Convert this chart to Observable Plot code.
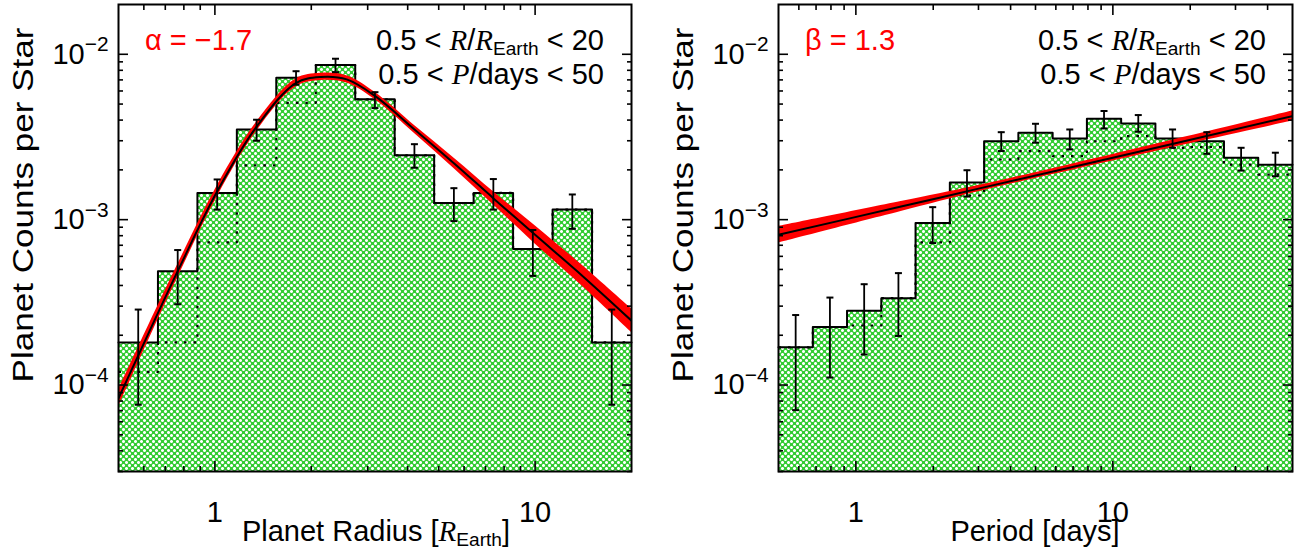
<!DOCTYPE html>
<html>
<head>
<meta charset="utf-8">
<script src="https://cdn.jsdelivr.net/npm/d3@7"></script>
<script src="https://cdn.jsdelivr.net/npm/@observablehq/plot@0.6"></script>
<style>
  html, body { margin: 0; padding: 0; background: #fff; }
  #wrap { position: relative; width: 1301px; height: 550px; overflow: hidden; }
  #left { position: absolute; left: 0; top: 0; }
  #right { position: absolute; left: 650px; top: 0; }
  svg text { white-space: pre; }
</style>
</head>
<body>
<div id="wrap"><div id="left"></div><div id="right"></div></div>
<script>
// ---------------- data ----------------
const yDomain = [3e-5, 2e-2];
const yMajor = [1e-4, 1e-3, 1e-2];
const yMinor = [3e-5, 4e-5, 5e-5, 6e-5, 7e-5, 8e-5, 9e-5,
                2e-4, 3e-4, 4e-4, 5e-4, 6e-4, 7e-4, 8e-4, 9e-4,
                2e-3, 3e-3, 4e-3, 5e-3, 6e-3, 7e-3, 8e-3, 9e-3];

// Left panel: planet radius
const radiusDomain = [0.5, 20];
const radiusMajor = [1, 10];
const radiusMinor = [0.6, 0.7, 0.8, 0.9, 2, 3, 4, 5, 6, 7, 8, 9];
const radiusEdges = [0.5, 0.664, 0.882, 1.171, 1.555, 2.066, 2.743, 3.643, 4.839, 6.427, 8.535, 11.34, 15.06, 20];
const radiusCounts = [1.81e-4, 4.87e-4, 1.45e-3, 3.51e-3, 7.22e-3, 8.61e-3, 5.34e-3, 2.45e-3, 1.26e-3, 1.45e-3, 6.64e-4, 1.15e-3, 1.81e-4];
const radiusCountsDotted = [1.2e-4, 1.81e-4, 7.29e-4, 2.13e-3, 5.09e-3, 8.61e-3, 5.34e-3, 2.45e-3, 1.26e-3, 1.45e-3, 6.64e-4, 1.15e-3, 1.81e-4];
const radiusErrLo = [7.6e-5, 3.08e-4, 1.15e-3, 3.0e-3, 6.55e-3, 7.8e-3, 4.73e-3, 2.06e-3, 9.8e-4, 1.15e-3, 4.57e-4, 8.8e-4, 7.6e-5];
const radiusErrHi = [2.86e-4, 6.55e-4, 1.75e-3, 4.02e-3, 7.9e-3, 9.4e-3, 5.9e-3, 2.86e-3, 1.55e-3, 1.76e-3, 8.66e-4, 1.42e-3, 2.86e-4];
const radiusFitR = [0.5, 0.58, 0.77, 1.02, 1.35, 1.79, 2.14, 2.58, 3.16, 4.21, 5.6, 7.43, 10, 14, 20];
const radiusFitN = [8.3e-5, 1.55e-4, 5.0e-4, 1.5e-3, 3.65e-3, 6.7e-3, 7.29e-3, 7.05e-3, 5.6e-3, 3.5e-3, 2.18e-3, 1.34e-3, 8.1e-4, 4.6e-4, 2.45e-4];
const radiusFitBand = [0.052, 0.047, 0.04, 0.034, 0.028, 0.024, 0.022, 0.022, 0.022, 0.024, 0.032, 0.04, 0.055, 0.063, 0.072]; // half-width, dex

// Right panel: orbital period
const periodDomain = [0.5, 50];
const periodMajor = [1, 10];
const periodMinor = [0.6, 0.7, 0.8, 0.9, 2, 3, 4, 5, 6, 7, 8, 9, 20, 30, 40];
const periodEdges = [0.5, 0.680, 0.924, 1.256, 1.707, 2.321, 3.155, 4.289, 5.830, 7.925, 10.77, 14.64, 19.91, 27.06, 36.78, 50];
const periodCounts = [1.69e-4, 2.24e-4, 2.81e-4, 3.35e-4, 9.54e-4, 1.68e-3, 2.98e-3, 3.35e-3, 3.10e-3, 4.07e-3, 3.82e-3, 3.10e-3, 2.98e-3, 2.37e-3, 2.15e-3];
const periodCountsDotted = [1.69e-4, 2.24e-4, 2.29e-4, 3.35e-4, 7.29e-4, 1.40e-3, 2.31e-3, 2.60e-3, 2.42e-3, 2.98e-3, 3.20e-3, 2.72e-3, 2.75e-3, 2.15e-3, 1.87e-3];
const periodErrLo = [7.05e-5, 1.11e-4, 1.53e-4, 1.98e-4, 7.22e-4, 1.38e-3, 2.6e-3, 2.92e-3, 2.66e-3, 3.56e-3, 3.4e-3, 2.72e-3, 2.5e-3, 1.98e-3, 1.83e-3];
const periodErrHi = [2.65e-4, 3.38e-4, 4.07e-4, 4.75e-4, 1.19e-3, 1.99e-3, 3.38e-3, 3.8e-3, 3.51e-3, 4.54e-3, 4.29e-3, 3.51e-3, 3.38e-3, 2.72e-3, 2.54e-3];
const periodFitP = [0.5, 1.5, 3, 10, 50];
const periodFitN = [8.1e-4, 1.2e-3, 1.54e-3, 2.37e-3, 4.23e-3];
const periodFitBand = [0.05, 0.03, 0.019, 0.02, 0.03];

// ---------------- styling ----------------
const FONT = "'Liberation Sans', Arial, Helvetica, sans-serif";
const SERIF = "'Liberation Serif', 'Times New Roman', serif";
const GREEN = "#33cc33";
const TINT = "#a6e6a6";
const FS = 29;

function hatchDefs(id) {
  return () => {
    const ns = "http://www.w3.org/2000/svg";
    const defs = document.createElementNS(ns, "defs");
    const pat = document.createElementNS(ns, "pattern");
    pat.setAttribute("id", id);
    pat.setAttribute("patternUnits", "userSpaceOnUse");
    pat.setAttribute("width", 6);
    pat.setAttribute("height", 6);
    pat.innerHTML =
      `<rect width="6" height="6" fill="${GREEN}"/>` +
      `<g shape-rendering="crispEdges">` +
      // soft diagonal corners of each hole
      `<g fill="${TINT}">` +
      `<rect x="2" y="2" width="1" height="1"/><rect x="4" y="2" width="1" height="1"/>` +
      `<rect x="2" y="4" width="1" height="1"/><rect x="4" y="4" width="1" height="1"/>` +
      `<rect x="1" y="1" width="1" height="1"/><rect x="5" y="1" width="1" height="1"/>` +
      `<rect x="1" y="5" width="1" height="1"/><rect x="5" y="5" width="1" height="1"/>` +
      `</g>` +
      // white plus-shaped holes
      `<g fill="white">` +
      `<rect x="3" y="2" width="1" height="3"/><rect x="2" y="3" width="3" height="1"/>` +
      `<rect x="0" y="0" width="2" height="1"/><rect x="5" y="0" width="1" height="1"/>` +
      `<rect x="0" y="1" width="1" height="1"/><rect x="0" y="5" width="1" height="1"/>` +
      `</g></g>`;
    defs.appendChild(pat);
    return defs;
  };
}

const capSymbol = {
  draw(ctx, size) {
    const r = Math.sqrt(size / Math.PI);
    ctx.moveTo(-r, 0);
    ctx.lineTo(r, 0);
  }
};

function richText(svg, x, y, parts, {anchor = "start", rotate = 0, fill = "black", size = FS, length = null} = {}) {
  const t = d3.select(svg).append("text")
    .attr("transform", `translate(${x},${y}) rotate(${rotate})`)
    .attr("text-anchor", anchor)
    .attr("font-size", size)
    .attr("font-family", FONT)
    .attr("fill", fill);
  if (length) t.attr("textLength", length).attr("lengthAdjust", "spacingAndGlyphs");
  let lowered = false;
  for (const p of parts) {
    const ts = t.append("tspan").text(p.text);
    if (p.italic) ts.attr("font-style", "italic").attr("font-family", SERIF);
    if (p.sub) {
      ts.attr("font-size", size * 0.66).attr("dy", size * 0.16);
      lowered = true;
    } else if (lowered) {
      ts.attr("dy", -size * 0.16);
      lowered = false;
    }
  }
  return t;
}

function panel(opt) {
  const {width, marginLeft, marginRight, xDomain, xMajor, xMinor, edges, counts, dotted,
         errLo, errHi, fitX, fitN, fitBand, hatchId} = opt;
  const n = counts.length;
  const step = edges.map((e, i) => ({x: e, y: counts[Math.min(i, n - 1)]}));
  const stepDot = edges.map((e, i) => ({x: e, y: dotted[Math.min(i, n - 1)]}));
  const bins = counts.map((c, i) => ({xc: Math.sqrt(edges[i] * edges[i + 1]), lo: errLo[i], hi: errHi[i]}));
  const fit = fitX.map((x, i) => ({x, y: fitN[i], y1: fitN[i] * Math.pow(10, -fitBand[i]), y2: fitN[i] * Math.pow(10, fitBand[i])}));
  const tickOpts = {tickFormat: () => "", label: null, strokeWidth: 1.6};
  const svg = Plot.plot({
    width, height: 550,
    marginLeft, marginRight, marginTop: 4, marginBottom: 79,
    x: {type: "log", domain: xDomain},
    y: {type: "log", domain: yDomain},
    style: {fontFamily: FONT, fontSize: FS + "px", color: "black", background: "white", overflow: "visible"},
    marks: [
      hatchDefs(hatchId),
      Plot.areaY(step, {x: "x", y1: yDomain[0], y2: "y", curve: "step-after", fill: `url(#${hatchId})`}),
      Plot.line(stepDot, {x: "x", y: "y", curve: "step-after", stroke: "black", strokeWidth: 2.2,
                          strokeLinecap: "butt", strokeDasharray: "2.5,7"}),
      Plot.line(step, {x: "x", y: "y", curve: "step-after", stroke: "black", strokeWidth: 2}),
      Plot.areaY(fit, {x: "x", y1: "y1", y2: "y2", curve: "catmull-rom", fill: "red", clip: true}),
      Plot.line(fit, {x: "x", y: "y", curve: "catmull-rom", stroke: "black", strokeWidth: 2, clip: true}),
      Plot.ruleX(bins, {x: "xc", y1: "lo", y2: "hi", stroke: "black", strokeWidth: 1.8}),
      Plot.dot(bins, {x: "xc", y: "lo", symbol: capSymbol, r: 3.5, stroke: "black", strokeWidth: 2}),
      Plot.dot(bins, {x: "xc", y: "hi", symbol: capSymbol, r: 3.5, stroke: "black", strokeWidth: 2}),
      Plot.frame({stroke: "black", strokeWidth: 2}),
      // inward ticks on all four sides
      Plot.axisX(xMajor, {anchor: "bottom", tickSize: -10, ...tickOpts}),
      Plot.axisX(xMinor, {anchor: "bottom", tickSize: -5, ...tickOpts}),
      Plot.axisX(xMajor, {anchor: "top", tickSize: -10, ...tickOpts}),
      Plot.axisX(xMinor, {anchor: "top", tickSize: -5, ...tickOpts}),
      Plot.axisY(yMajor, {anchor: "left", tickSize: -10, ...tickOpts}),
      Plot.axisY(yMinor, {anchor: "left", tickSize: -5, ...tickOpts}),
      Plot.axisY(yMajor, {anchor: "right", tickSize: -10, ...tickOpts}),
      Plot.axisY(yMinor, {anchor: "right", tickSize: -5, ...tickOpts}),
      // tick labels
      Plot.axisX(xMajor, {anchor: "bottom", tickSize: 0, tickPadding: 30, label: null, fontSize: FS, tickFormat: d => String(d)}),
      Plot.axisY(yMajor, {anchor: "left", tickSize: 0, tickPadding: 10, label: null, fontSize: FS,
                          tickFormat: d => "10^" + Math.round(Math.log10(d))})
    ]
  });
  // superscripted powers of ten
  d3.select(svg).selectAll("text").each(function () {
    const m = /^10\^(-?\d+)$/.exec(this.textContent);
    if (!m) return;
    const el = d3.select(this);
    el.text("10");
    el.append("tspan").attr("font-size", FS * 0.72).attr("dy", -FS * 0.42)
      .text(m[1].replace("-", "\u2212"));
  });
  return svg;
}

// ---------------- left panel ----------------
const left = panel({
  width: 650, marginLeft: 118, marginRight: 19,
  xDomain: radiusDomain, xMajor: radiusMajor, xMinor: radiusMinor,
  edges: radiusEdges, counts: radiusCounts, dotted: radiusCountsDotted,
  errLo: radiusErrLo, errHi: radiusErrHi,
  fitX: radiusFitR, fitN: radiusFitN, fitBand: radiusFitBand, hatchId: "hatchL"
});
document.getElementById("left").appendChild(left);
richText(left, 376, 541, [{text: "Planet Radius ["}, {text: "R", italic: true}, {text: "Earth", sub: true}, {text: "]"}], {anchor: "middle"});
richText(left, 33, 205, [{text: "Planet Counts per Star"}], {anchor: "middle", rotate: -90, length: 355});
richText(left, 145, 50, [{text: "\u03b1 = \u22121.7"}], {fill: "red"});
richText(left, 604, 50, [{text: "0.5 < "}, {text: "R", italic: true}, {text: "/"}, {text: "R", italic: true}, {text: "Earth", sub: true}, {text: " < 20"}], {anchor: "end"});
richText(left, 604, 84, [{text: "0.5 < "}, {text: "P", italic: true}, {text: "/days < 50"}], {anchor: "end"});

// ---------------- right panel ----------------
const right = panel({
  width: 651, marginLeft: 128, marginRight: 9,
  xDomain: periodDomain, xMajor: periodMajor, xMinor: periodMinor,
  edges: periodEdges, counts: periodCounts, dotted: periodCountsDotted,
  errLo: periodErrLo, errHi: periodErrHi,
  fitX: periodFitP, fitN: periodFitN, fitBand: periodFitBand, hatchId: "hatchR"
});
document.getElementById("right").appendChild(right);
richText(right, 385, 541, [{text: "Period [days]"}], {anchor: "middle"});
richText(right, 43, 205, [{text: "Planet Counts per Star"}], {anchor: "middle", rotate: -90, length: 355});
richText(right, 155, 50, [{text: "\u03b2 = 1.3"}], {fill: "red"});
richText(right, 616, 50, [{text: "0.5 < "}, {text: "R", italic: true}, {text: "/"}, {text: "R", italic: true}, {text: "Earth", sub: true}, {text: " < 20"}], {anchor: "end"});
richText(right, 616, 84, [{text: "0.5 < "}, {text: "P", italic: true}, {text: "/days < 50"}], {anchor: "end"});
</script>
</body>
</html>
